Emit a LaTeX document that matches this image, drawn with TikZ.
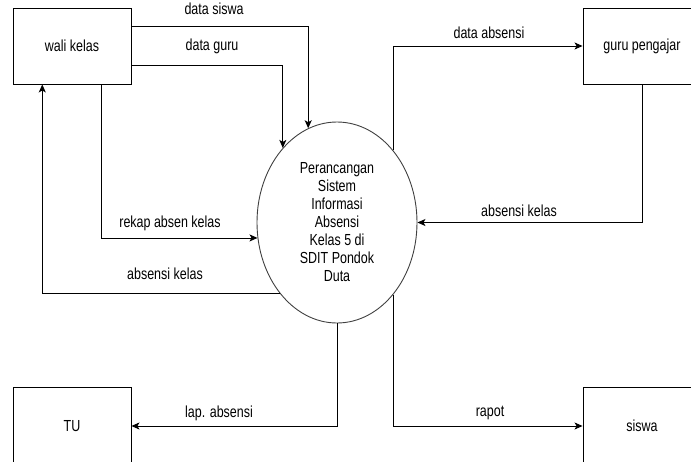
\documentclass[tikz,border=0pt]{standalone}
\usepackage{fontspec}
\setmainfont{Liberation Sans}[FakeStretch=0.78]
\usetikzlibrary{arrows.meta,calc,shapes.geometric}
\begin{document}
\begin{tikzpicture}[x=1pt,y=-1pt,
  every node/.style={font=\fontsize{16}{18}\selectfont},
  entity/.style={draw=black,line width=0.9pt,rectangle,minimum width=118pt,minimum height=76pt,inner sep=0pt},
  proc/.style={draw=black!75,line width=0.9pt,ellipse,minimum width=160pt,minimum height=201pt,inner sep=0pt,align=center},
  flow/.style={draw=black,line width=0.9pt,-{Stealth[length=8pt,width=7pt,inset=2pt]}},
  lbl/.style={inner sep=0pt}]
\useasboundingbox (0,0) rectangle (691,461);
\node[entity] (wali) at (72,46) {wali kelas};
\node[entity] (guru) at (642,46) {guru pengajar};
\node[entity,minimum height=78pt] (tu) at (72,426) {TU};
\node[entity,minimum height=78pt] (siswa) at (642,426) {siswa};
\node[proc] (proc) at (337,222.5) {Perancangan\\Sistem\\Informasi\\Absensi\\Kelas 5 di\\SDIT Pondok\\Duta};
% start/end points
\coordinate (wA) at ($(wali.north east)!0.25!(wali.south east)$);
\coordinate (wB) at ($(wali.north east)!0.75!(wali.south east)$);
\coordinate (wC) at ($(wali.south west)!0.75!(wali.south east)$);
\coordinate (wD) at ($(wali.south west)!0.25!(wali.south east)$);
% connectors
\draw[flow] (wA) -| (proc.107.2);
\draw[flow] (wB) -| (proc.126.05);
\draw[flow] (wC) |- (proc.191.8);
\draw[flow] (proc.231.05) -| (wD);
\draw[flow] (proc.52.05) |- (guru.west);
\draw[flow] (guru.south) |- (proc.east);
\draw[flow] (proc.south) |- (tu.east);
\draw[flow] (proc.-52.05) |- (siswa.west);
% labels
\node[lbl] (l1) at (214,9) {data siswa};
\node[lbl] (l2) at (212,46) {data guru};
\node[lbl] (l3) at (170,223) {rekap absen kelas};
\node[lbl] (l4) at (165,274) {absensi kelas};
\node[lbl] (l5) at (489,33) {data absensi};
\node[lbl] (l6) at (519,211) {absensi kelas};
\node[lbl] (l7) at (219,413) {lap. absensi};
\node[lbl] (l8) at (490,413) {rapot};
\end{tikzpicture}
\end{document}
